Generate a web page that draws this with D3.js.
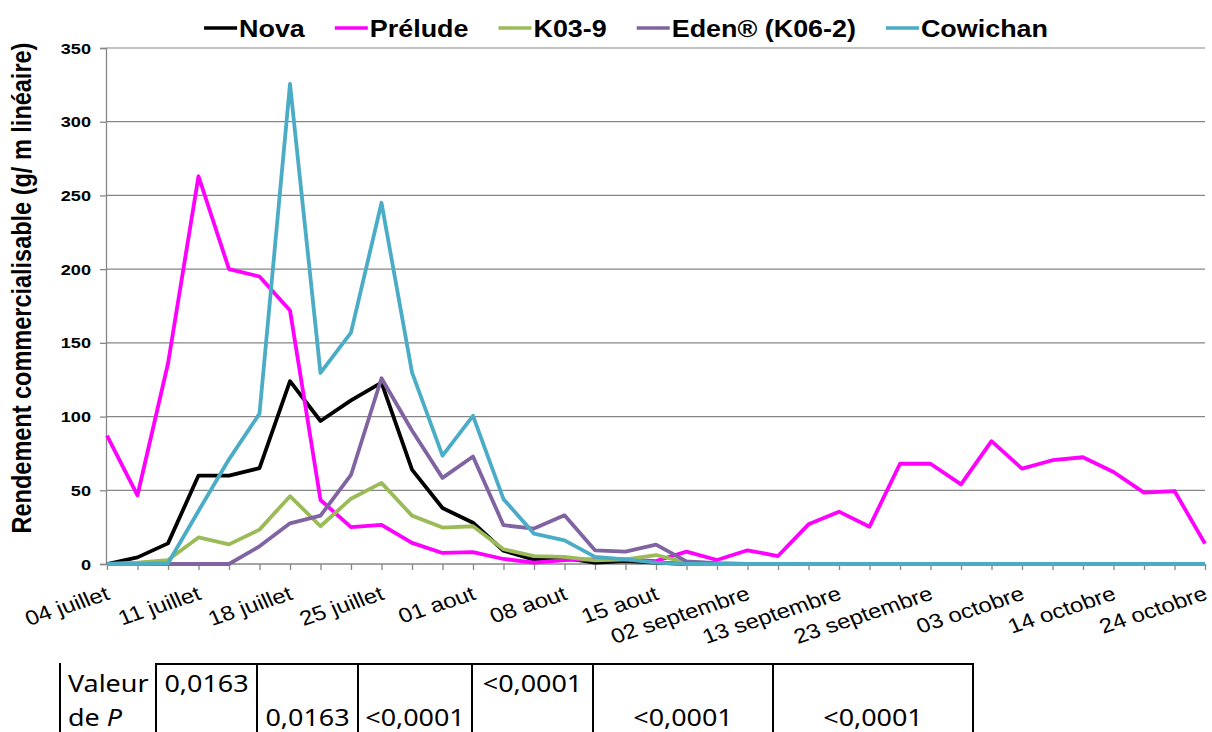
<!DOCTYPE html>
<html>
<head>
<meta charset="utf-8">
<script src="https://cdn.jsdelivr.net/npm/d3@7"></script>
<style>
  body { margin: 0; background: #fff; }
  svg { display: block; }
</style>
</head>
<body>
<div id="chart"></div>
<script>
// Tick labels shown on the x axis (one every third harvest date).
var tickLabels = ['04 juillet', '11 juillet', '18 juillet', '25 juillet', '01 aout',
  '08 aout', '15 aout', '02 septembre', '13 septembre', '23 septembre',
  '03 octobre', '14 octobre', '24 octobre'];

var seriesNames = ['Nova', 'Prélude', 'K03-9', 'Eden® (K06-2)', 'Cowichan'];

var nova = [0, 4.5, 14, 60, 60, 65, 124, 97, 111, 123, 64, 38, 28, 9, 3, 4, 1,
  2, 1, 0, 0, 0, 0, 0, 0, 0, 0, 0, 0, 0, 0, 0, 0, 0, 0, 0, 0];
var prelude = [87, 46.6, 136, 263, 200, 195, 172, 43.4, 25, 26.5, 14.3, 7.5, 8.1,
  3.4, 0.9, 2.7, 3.2, 3.2, 2, 8.4, 2.7, 9.3, 5.4, 26.9, 35.5, 25.3, 68, 68, 54,
  83.3, 64.7, 70.4, 72.4, 62.4, 48.4, 49.5, 13.8];
var k039 = [0, 1, 2.7, 18, 13.3, 23.3, 46, 25.6, 44.3, 55, 32.8, 24.7, 25.6, 10,
  5.4, 4.8, 2.5, 3.2, 6.1, 1, 0, 0, 0, 0, 0, 0, 0, 0, 0, 0, 0, 0, 0, 0, 0, 0, 0];
var eden = [0, 0, 0, 0, 0, 12, 27.6, 32.8, 60.4, 126, 90.5, 58.4, 72.9, 26.3, 24,
  33, 9.3, 8.4, 13.1, 1.8, 0.5, 0, 0, 0, 0, 0, 0, 0, 0, 0, 0, 0, 0, 0, 0, 0, 0];
var cowichan = [0, 0, 0.5, 36, 71, 102, 325.6, 129.6, 157, 245, 130, 73.5, 100.5,
  44, 20.6, 16, 4.8, 3.2, 1, 0, 0, 0, 0, 0, 0, 0, 0, 0, 0, 0, 0, 0, 0, 0, 0, 0, 0];

var yTicks = [0, 50, 100, 150, 200, 250, 300, 350];

// P-value table below the chart.
var pLabel = ['Valeur', 'de '];
var pValues = ['0,0163', '0,0163', '<0,0001', '<0,0001', '<0,0001', '<0,0001'];
var pRows = [0, 1, 1, 0, 1, 1];

var colors = ['#000000', '#FF00FF', '#9BBB59', '#8064A2', '#4BACC6'];
var series = [nova, prelude, k039, eden, cowichan];

var W = 1212, H = 732;
var S = 1.17;  // the source picture is stretched horizontally
var AXIS = '#868686';

var svg = d3.select('#chart').append('svg')
    .attr('width', W)
    .attr('height', H);

var x = d3.scalePoint()
    .domain(d3.range(nova.length))
    .range([107, 1205]);
var y = d3.scaleLinear()
    .domain([0, 350])
    .range([564, 48]);

function stretched(parent, tx, ty, rot) {
  var g = parent.append('g')
      .attr('transform', 'translate(' + tx + ',' + ty + ') scale(' + S + ',1)' +
            (rot ? ' rotate(' + rot + ')' : ''));
  return g.append('text');
}

// gridlines
svg.append('g').selectAll('line')
    .data(yTicks.slice(1))
  .enter().append('line')
    .attr('x1', 106).attr('x2', 1205)
    .attr('y1', function(d) { return y(d); })
    .attr('y2', function(d) { return y(d); })
    .style('stroke', AXIS)
    .style('stroke-width', 1.2);

// y axis
var yAxis = d3.axisLeft(y).tickValues(yTicks).tickSize(6).tickFormat('');
svg.append('g')
    .attr('transform', 'translate(106,0)')
    .call(yAxis)
    .call(function(g) {
      g.selectAll('path, line').style('stroke', AXIS).style('stroke-width', 1.3);
    });

yTicks.forEach(function(v) {
  stretched(svg, 91, y(v) + 5.5)
      .attr('text-anchor', 'end')
      .style('font', 'bold 15.5px "Liberation Sans", Arial, sans-serif')
      .text(v);
});

// x axis
var xAxis = d3.axisBottom(x).tickSize(6).tickFormat('').tickSizeOuter(0);
svg.append('g')
    .attr('transform', 'translate(0,564)')
    .call(xAxis)
    .call(function(g) {
      g.select('path').attr('d', 'M106,0H1205');
      g.selectAll('path, line').style('stroke', AXIS).style('stroke-width', 1.3);
    });

tickLabels.forEach(function(t, i) {
  stretched(svg, x(i * 3) + 4, 599, -21)
      .attr('text-anchor', 'end')
      .style('font', '20.5px "Liberation Sans", Arial, sans-serif')
      .text(t);
});

// y title
stretched(svg, 31, 288, -90)
    .attr('text-anchor', 'middle')
    .style('font', 'bold 23.5px "Liberation Sans", Arial, sans-serif')
    .text('Rendement commercialisable (g/ m linéaire)');

// lines
var line = d3.line()
    .x(function(d, i) { return x(i); })
    .y(function(d) { return y(d); });

svg.append('g').selectAll('path')
    .data(series)
  .enter().append('path')
    .attr('d', line)
    .style('fill', 'none')
    .style('stroke', function(d, i) { return colors[i]; })
    .style('stroke-width', 3.8)
    .style('stroke-linejoin', 'round');

// legend
var legend = svg.append('g');
var lx = 0;
seriesNames.forEach(function(name, i) {
  var it = legend.append('g');
  it.append('line')
      .attr('x1', lx).attr('x2', lx + 33)
      .attr('y1', 28).attr('y2', 28)
      .style('stroke', colors[i])
      .style('stroke-width', 3.6);
  var t = stretched(it, lx + 35, 37)
      .style('font', 'bold 23px "Liberation Sans", Arial, sans-serif')
      .text(name);
  lx += 35 + t.node().getComputedTextLength() * S + 30;
});
var legendWidth = lx - 30;
legend.attr('transform', 'translate(' + (626 - legendWidth / 2) + ',0)');

// p-value table
var table = svg.append('g');
var cols = [156, 257, 358, 472, 593, 773, 973];
var rowBase = [692, 726];
var tableFont = '23px "Noto Sans", "Open Sans", sans-serif';

table.append('line')
    .attr('x1', 60).attr('x2', 60).attr('y1', 663).attr('y2', H)
    .style('stroke', '#000').style('stroke-width', 2);
table.append('line')
    .attr('x1', cols[0] - 1).attr('x2', cols[cols.length - 1] + 1)
    .attr('y1', 664).attr('y2', 664)
    .style('stroke', '#000').style('stroke-width', 2.2);
table.selectAll('line.col')
    .data(cols)
  .enter().append('line')
    .attr('class', 'col')
    .attr('x1', function(d) { return d; })
    .attr('x2', function(d) { return d; })
    .attr('y1', 663).attr('y2', H)
    .style('stroke', '#000').style('stroke-width', 2);

stretched(table, 68, rowBase[0]).style('font', tableFont).text(pLabel[0]);
var dp = stretched(table, 68, rowBase[1]).style('font', tableFont).text(pLabel[1]);
dp.append('tspan').style('font-style', 'italic').text('P');

pValues.forEach(function(v, i) {
  stretched(table, (cols[i] + cols[i + 1]) / 2, rowBase[pRows[i]])
      .attr('text-anchor', 'middle')
      .style('font', tableFont)
      .text(v);
});
</script>
</body>
</html>
